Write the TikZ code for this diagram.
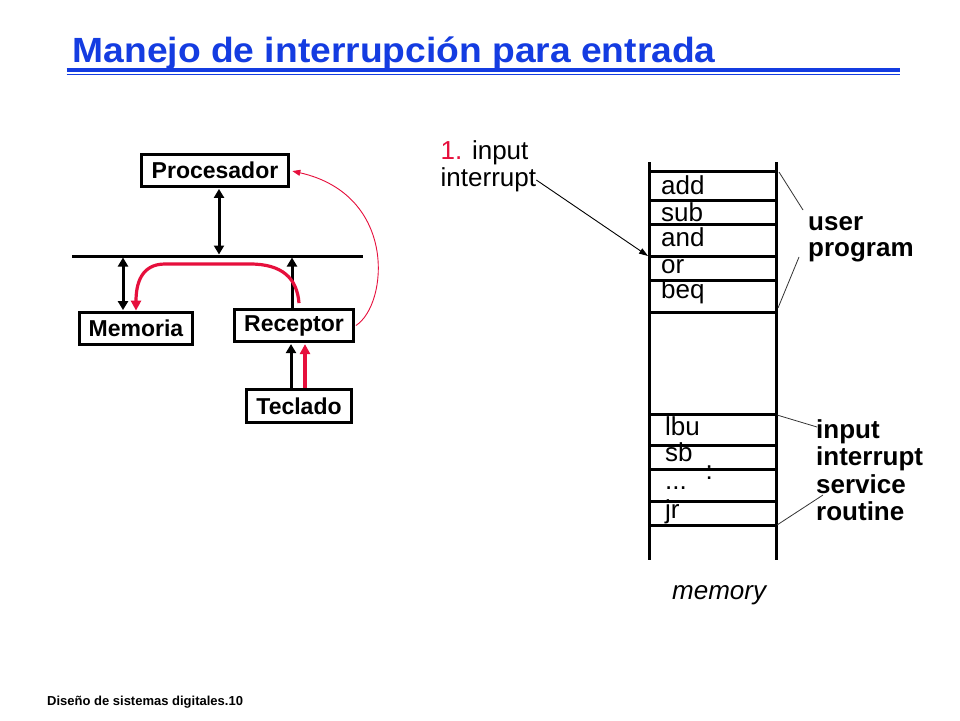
\documentclass[tikz,border=0pt]{standalone}
\usepackage{fontspec}
\setmainfont{Liberation Sans}
\usetikzlibrary{arrows.meta}
\definecolor{titleblue}{RGB}{20,60,225}
\definecolor{ired}{RGB}{230,15,60}
\newcommand\fsz[1]{\fontsize{#1}{#1}\selectfont}
\begin{document}
\begin{tikzpicture}[x=1pt,y=-1pt,
  box/.style={draw,line width=2.8pt,inner sep=0pt,font=\bfseries\fsz{23}},
  txt/.style={inner sep=0pt,anchor=base west},
  lbl/.style={txt,font=\fsz{26}},
  blbl/.style={txt,font=\bfseries\fsz{26}},
  thick line/.style={line width=3pt},
  blkarrow/.style={line width=3pt,-{Triangle[length=9pt,width=10pt]}},
  blkdbl/.style={line width=3pt,{Triangle[length=9pt,width=10pt]}-{Triangle[length=9pt,width=10pt]}},
  redarrow/.style={ired,line width=3.2pt,-{Triangle[length=10pt,width=10pt]}},
  thinred/.style={ired,line width=0.9pt,-{Triangle[length=8pt,width=6pt]}},
  thinblk/.style={line width=0.9pt,-{Triangle[length=9pt,width=6pt]}},
  leader/.style={line width=0.8pt,black!80}
]
\useasboundingbox[fill=white] (0,0) rectangle (960,720);

% title
\node[txt,text=titleblue,font=\bfseries\fsz{35}] (title) at (72.5,62.5) {\scalebox{1.063}[1]{Manejo de interrupción para entrada}};
\coordinate (ulL) at (66.5,70.3);
\coordinate (ulR) at (900,70.3);
\draw[titleblue,line width=4pt] (ulL) -- (ulR);
\draw[titleblue,line width=1.3pt] ([yshift=-4.4pt]ulL) -- ([yshift=-4.4pt]ulR);

% left diagram
\node[box,minimum width=147pt,minimum height=32pt] (proc) at (215,170.5) {Procesador};
\node[box,minimum width=113pt,minimum height=32pt] (mem) at (136,328.5) {Memoria};
\node[box,minimum width=119pt,minimum height=32pt] (rec) at (294,325.5) {Receptor};
\node[box,minimum width=105pt,minimum height=33pt] (tec) at (299,406) {Teclado};
\coordinate (busL) at (72,256);
\coordinate (busR) at (363,256);
\draw[thick line] (busL) -- (busR);

\draw[blkdbl,shorten <=1pt,shorten >=1.5pt] ([xshift=4pt]proc.south) -- ([xshift=4pt]proc.south |- busL);
\draw[blkdbl,shorten <=1pt,shorten >=1.5pt] ([xshift=-13pt]mem.north) -- ([xshift=-13pt]mem.north |- busL);
\draw[blkarrow,shorten >=1.5pt] ([xshift=-2pt]rec.north) -- ([xshift=-2pt]rec.north |- busL);
\draw[blkarrow,shorten >=1.2pt] ([xshift=-8pt]tec.north) -- ([xshift=-8pt]tec.north |- rec.south);
\draw[redarrow,shorten >=1.2pt] ([xshift=6pt]tec.north) -- ([xshift=6pt]tec.north |- rec.south);

\draw[redarrow,shorten >=0.5pt] ([xshift=5pt,yshift=5pt]rec.north) .. controls (297,278) and (282,264) .. (250,264) -- (165,264) .. controls (141,264) and (136,284) .. (mem.north);
\draw[thinred,shorten >=2.5pt] ([xshift=1pt]rec.east) .. controls (388,305) and (398,195) .. (proc.east);

% memory column
\coordinate (cLt) at (649,162);
\coordinate (cLb) at (649,560);
\coordinate (cRt) at (776,162);
\coordinate (cRb) at (776,560);
\draw[thick line] (cLt) -- (cLb);
\draw[thick line] (cRt) -- (cRb);
\foreach \yy in {171,200,224,256,280,312,414,445,469,501,525}
  \draw[thick line] (649,\yy) -- (776,\yy);

\node[lbl] (add) at (661,194) {add};
\node[lbl] (sub) at (661,221) {sub};
\node[lbl] (and) at (661,246.5) {and};
\node[lbl] (or) at (661,273) {or};
\node[lbl] (beq) at (661,298) {beq};
\node[lbl] (lbu) at (665,435) {lbu};
\node[lbl] (sb) at (665,461.5) {sb};
\node[lbl] (dots) at (665,489) {...};
\node[lbl] (colon) at (705.5,479.5) {:};
\node[lbl] (jr) at (665,518) {jr};
\node[txt,font=\itshape\fsz{26}] (memlbl) at (672,599) {memory};

% user program
\node[blbl] (up1) at (808,230) {user};
\node[blbl] (up2) at (808,256.5) {program};
\coordinate (upA) at (779,172);
\coordinate (upB) at (803,210);
\coordinate (upC) at (799,257);
\coordinate (upD) at (778,308);
\draw[leader] (upA) -- (upB);
\draw[leader] (upC) -- (upD);

% input interrupt service routine
\node[blbl] (isr1) at (816,438) {input};
\node[blbl] (isr2) at (816,465.5) {interrupt};
\node[blbl] (isr3) at (816,493) {service};
\node[blbl] (isr4) at (816,520.5) {routine};
\coordinate (isA) at (777,415);
\coordinate (isB) at (817,427);
\coordinate (isC) at (777,525);
\coordinate (isD) at (823,495);
\draw[leader] (isA) -- (isB);
\draw[leader] (isC) -- (isD);

% 1. input interrupt
\node[lbl] (in1) at (440.5,159.3) {\textcolor{ired}{1.} input};
\node[lbl] (in2) at (440.5,186.7) {interrupt};
\coordinate (orL) at (648,256);
\draw[thinblk] (in2.east) -- (orL);

% footer
\node[txt,font=\bfseries\fsz{13}] (foot) at (47,705) {Diseño de sistemas digitales.10};
\end{tikzpicture}
\end{document}
